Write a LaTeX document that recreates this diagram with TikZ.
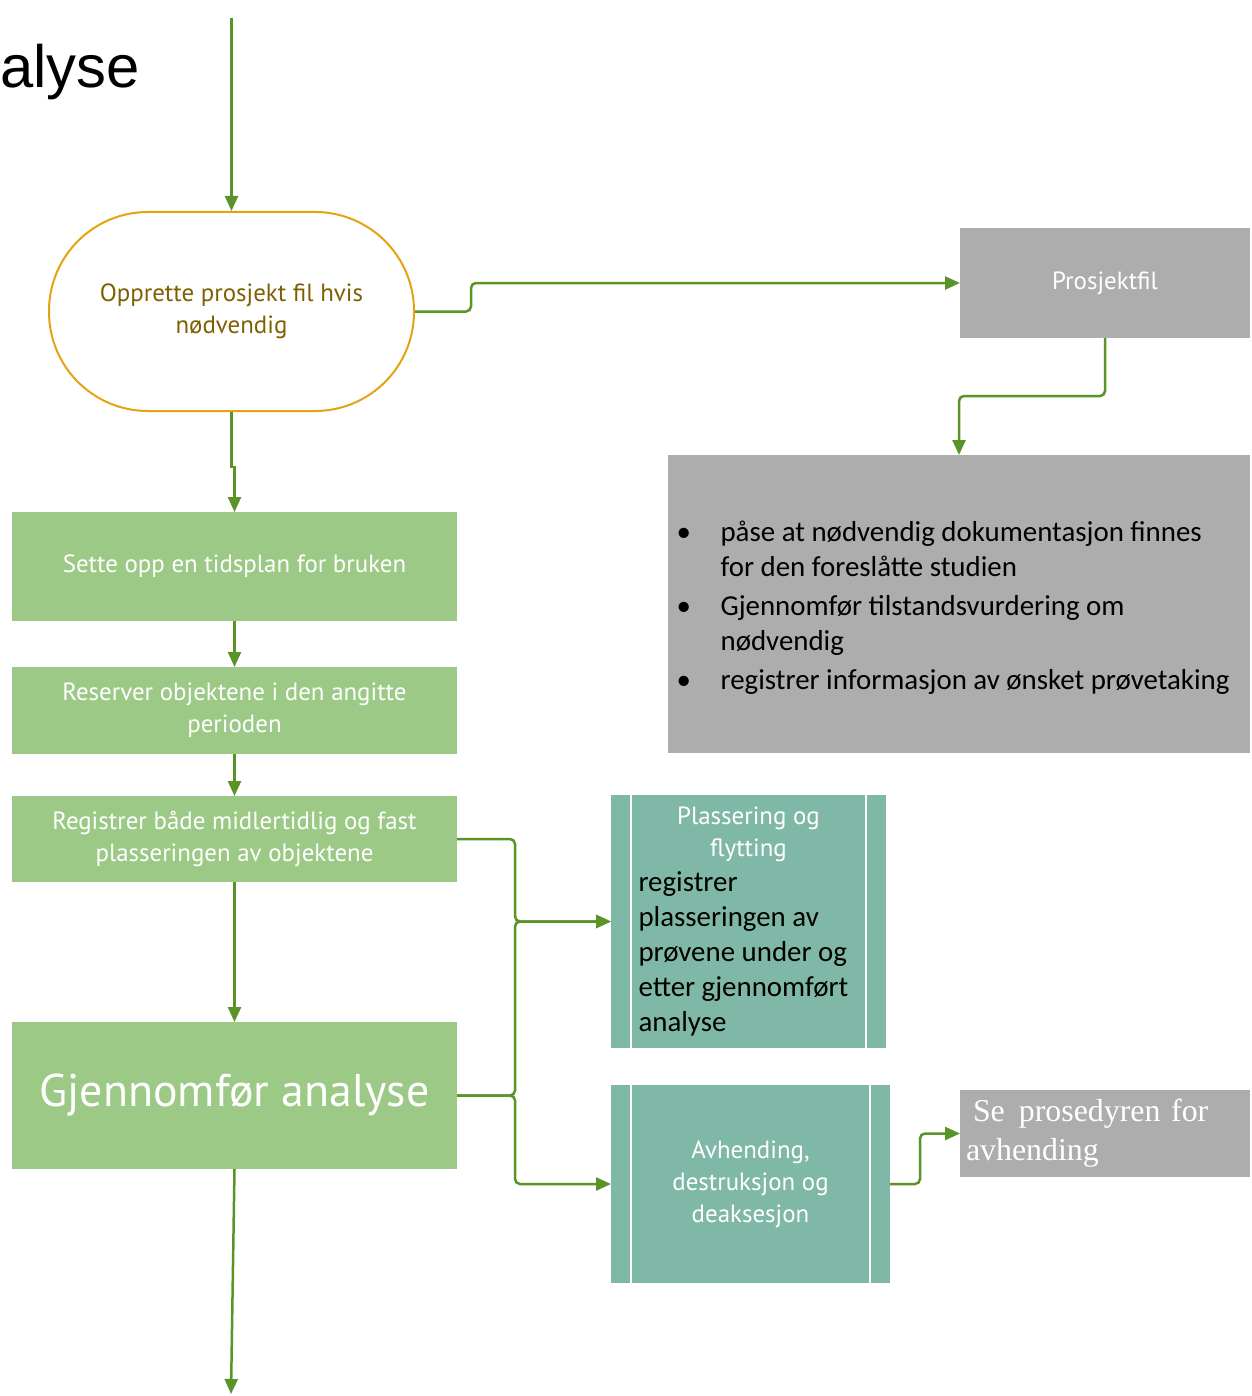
\documentclass[tikz,border=0pt]{standalone}
\usepackage{fontspec}
\usepackage{tikz}
\usetikzlibrary{arrows.meta,shapes}

\newfontfamily\boxfont{PT Sans}
\newfontfamily\calfont{Carlito}
\newfontfamily\serfont{Liberation Serif}
\newfontfamily\titfont{Liberation Sans}

\definecolor{boxgreen}{RGB}{157,201,134}
\definecolor{boxteal}{RGB}{128,184,168}
\definecolor{boxgray}{RGB}{173,173,173}
\definecolor{linegreen}{RGB}{90,147,40}
\definecolor{termorange}{RGB}{228,163,18}
\definecolor{termtext}{RGB}{127,96,0}

\begin{document}
\begin{tikzpicture}[x=1bp,y=-1bp,
  >={Triangle[length=15bp,width=13bp]},
  conn/.style={->,line width=2.5bp,draw=linegreen,rounded corners=5bp},
  stepbox/.style={fill=boxgreen,text=white,font=\boxfont\fontsize{25}{32}\selectfont,
    align=center,inner sep=0pt,outer sep=0pt,minimum width=445bp},
  graybox/.style={fill=boxgray,text=white,inner sep=0pt,outer sep=0pt,minimum width=290bp},
  predef/.style={fill=boxteal,text=white,inner sep=0pt,outer sep=0pt,
    font=\boxfont\fontsize{25}{32}\selectfont,align=center}]
\useasboundingbox (0,0) rectangle (1251,1396);
\node (title) at (0,88) [anchor=base west,inner sep=0pt,font=\titfont\fontsize{60}{72}\selectfont] {alyse};
\node (stad) at (231.5,311.5) [draw=termorange,line width=2bp,rounded corners=99bp,minimum width=365bp,minimum height=199bp,
  text=termtext,align=center,font=\boxfont\fontsize{25}{32}\selectfont] {Opprette prosjekt fil hvis\\nødvendig};
\node (set) at (234.5,566.5) [stepbox,minimum height=109bp] {Sette opp en tidsplan for bruken};
\node (res) at (234.5,710.5) [stepbox,minimum height=87bp] {Reserver objektene i den angitte\\perioden};
\node (reg) at (234.5,839) [stepbox,minimum height=86bp] {Registrer både midlertidlig og fast\\plasseringen av objektene};
\node (gjen) at (234.5,1095.5) [stepbox,minimum height=147bp,font=\boxfont\fontsize{46}{54}\selectfont] {Gjennomfør analyse};
\node (pfil) at (1105,283) [graybox,minimum height=110bp,font=\boxfont\fontsize{25}{32}\selectfont] {Prosjektfil};
\node (info) at (959,604) [graybox,minimum width=582bp,minimum height=298bp,text=black,font=\calfont\fontsize{29}{35}\selectfont]
  {\begin{tabular}{@{}p{44bp}@{}l@{}}
   \noalign{\vspace{9bp}}
   \textbullet & påse at nødvendig dokumentasjon finnes\\
               & for den foreslåtte studien\\[4bp]
   \textbullet & Gjennomfør tilstandsvurdering om\\
               & nødvendig\\[4bp]
   \textbullet & registrer informasjon av ønsket prøvetaking
   \end{tabular}\hspace*{12bp}};
\node (plass) at (748.5,921.5) [predef,minimum width=275bp,minimum height=253bp]
  {\parbox{220bp}{\centering Plassering og\\flytting\par
   \raggedright\color{black}\calfont\fontsize{29}{35}\selectfont registrer\\plasseringen av\\prøvene under og\\etter gjennomført\\analyse}};
\node (avh) at (750.5,1184) [predef,minimum width=279bp,minimum height=198bp] {Avhending,\\destruksjon og\\deaksesjon};
\node (sepro) at (1105,1133.5) [graybox,minimum height=87bp,text width=278bp,align=left,font=\serfont\fontsize{32}{39}\selectfont]
  {\hspace*{7bp}Se\hspace{14bp}prosedyren for\\avhending};
\foreach \n in {plass,avh}
  {\draw [white,line width=2.5bp] ([xshift=20bp]\n.north west) -- ([xshift=20bp]\n.south west);
   \draw [white,line width=2.5bp] ([xshift=-20bp]\n.north east) -- ([xshift=-20bp]\n.south east);}
\coordinate (top) at (231.5,18);
\coordinate (bottom) at (231,1394);
\draw [conn] (top) -- (stad.north);
\draw [conn,sharp corners] (stad.south) -- ++(0,55) -| (set.north);
\draw [conn] (set.south) -- (res.north);
\draw [conn] (res.south) -- (reg.north);
\draw [conn] (reg.south) -- (gjen.north);
\draw [conn] (gjen.south) -- (bottom);
\draw [conn] (stad.east) -- ++(56,0) |- (pfil.west);
\draw [conn] (pfil.south) -- ++(0,58) -| (info.north);
\draw [conn] (reg.east) -- ++(58,0) |- (plass.west);
\draw [conn] (gjen.east) -- ++(58,0) |- (plass.west);
\draw [conn] (gjen.east) -- ++(58,0) |- (avh.west);
\draw [conn] (avh.east) -- ++(30,0) |- (sepro.west);
\end{tikzpicture}
\end{document}
